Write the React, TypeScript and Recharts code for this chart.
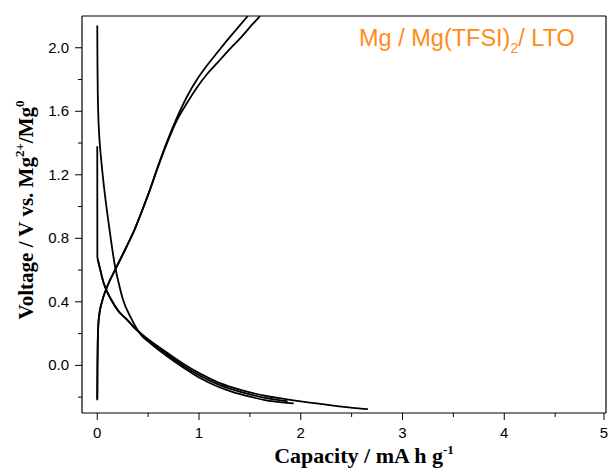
import { LineChart, Line, XAxis, YAxis, ReferenceLine } from 'recharts';

// #region Data (capacity in mA h g-1, voltage in V)
const chargeCap1 = [0, 0.002, 0.005, 0.01, 0.02, 0.046, 0.1, 0.19, 0.29, 0.37, 0.45, 0.52, 0.6, 0.68, 0.78, 0.88, 0.98, 1.08, 1.18, 1.28, 1.38, 1.48];
const chargeV1 = [-0.22, 0.0, 0.15, 0.25, 0.32, 0.4, 0.5, 0.62, 0.75, 0.86, 0.99, 1.11, 1.26, 1.4, 1.555, 1.69, 1.8, 1.89, 1.97, 2.05, 2.125, 2.2];

const chargeCap2 = [0, 0.002, 0.005, 0.01, 0.02, 0.046, 0.1, 0.19, 0.29, 0.37, 0.45, 0.52, 0.6, 0.68, 0.78, 0.88, 0.98, 1.08, 1.18, 1.3, 1.42, 1.5, 1.55, 1.6];
const chargeV2 = [-0.21, 0.0, 0.15, 0.25, 0.32, 0.4, 0.5, 0.62, 0.75, 0.86, 0.99, 1.11, 1.255, 1.39, 1.54, 1.65, 1.75, 1.835, 1.905, 1.99, 2.07, 2.13, 2.165, 2.2];

const dischargeCapA = [0, 0.002, 0.005, 0.01, 0.02, 0.035, 0.05, 0.065, 0.08, 0.1, 0.13, 0.17, 0.21, 0.25, 0.33, 0.42, 0.52, 0.68, 0.845, 1.01, 1.17, 1.334, 1.5, 1.66, 1.82, 1.93];
const dischargeVA = [2.14, 1.9, 1.72, 1.58, 1.44, 1.32, 1.22, 1.13, 1.05, 0.95, 0.81, 0.64, 0.52, 0.42, 0.3, 0.2, 0.14, 0.06, -0.014, -0.08, -0.13, -0.168, -0.197, -0.22, -0.233, -0.24];

const dischargeCapB = [0, 0.001, 0.005, 0.03, 0.062, 0.1, 0.14, 0.21, 0.29, 0.36, 0.43, 0.52, 0.68, 0.845, 1.01, 1.17, 1.334, 1.5, 1.66, 1.82, 2.0, 2.16, 2.32, 2.51, 2.66];
const dischargeVB = [1.38, 0.68, 0.67, 0.6, 0.52, 0.46, 0.41, 0.34, 0.29, 0.24, 0.2, 0.155, 0.082, 0.01, -0.052, -0.102, -0.14, -0.17, -0.193, -0.21, -0.227, -0.24, -0.254, -0.268, -0.276];

const dischargeCapC = [0.003, 0.03, 0.062, 0.1, 0.14, 0.21, 0.29, 0.36, 0.43, 0.52, 0.68, 0.845, 1.01, 1.17, 1.334, 1.5, 1.66, 1.82, 1.87];
const dischargeVC = [0.67, 0.6, 0.52, 0.46, 0.41, 0.34, 0.29, 0.24, 0.2, 0.148, 0.072, -0.002, -0.065, -0.115, -0.153, -0.183, -0.206, -0.222, -0.226];

const xTicks = [0, 0.5, 1, 1.5, 2, 2.5, 3, 3.5, 4, 4.5, 5];
const yTicks = [-0.2, 0, 0.2, 0.4, 0.6, 0.8, 1.0, 1.2, 1.4, 1.6, 1.8, 2.0];
// #endregion

const toPoints = (cap: number[], v: number[]) => cap.map((c, i) => ({ c, v: v[i] }));

const curves = [
  toPoints(chargeCap1, chargeV1),
  toPoints(chargeCap2, chargeV2),
  toPoints(dischargeCapA, dischargeVA),
  toPoints(dischargeCapB, dischargeVB),
  toPoints(dischargeCapC, dischargeVC),
];

const tickFont = '"Liberation Sans", Arial, sans-serif';
const labelFont = '"Liberation Serif", "Times New Roman", serif';

const XTick = (props: any) => {
  const { x, y, payload } = props;
  const major = Number.isInteger(payload.value);
  return (
    <g>
      <line x1={x} y1={y} x2={x} y2={y + (major ? 7 : 4)} stroke="#000" strokeWidth={1} />
      {major && (
        <text x={x} y={y + 25} textAnchor="middle" fontSize={15} fontFamily={tickFont} fill="#000">
          {payload.value}
        </text>
      )}
    </g>
  );
};

const YTick = (props: any) => {
  const { x, y, payload } = props;
  const major = Math.round(payload.value * 10) % 4 === 0;
  return (
    <g>
      <line x1={x} y1={y} x2={x - (major ? 7 : 4)} y2={y} stroke="#000" strokeWidth={1} />
      {major && (
        <text x={x - 13} y={y + 5} textAnchor="end" fontSize={15} fontFamily={tickFont} fill="#000">
          {payload.value.toFixed(1)}
        </text>
      )}
    </g>
  );
};

const App = () => {
  return (
    <div style={{ position: 'absolute', left: 0, top: 0, width: 608, height: 471, background: '#fff' }}>
      <LineChart width={608} height={471} margin={{ top: 16, right: 2, bottom: 0, left: 0 }}>
        <XAxis
          dataKey="c"
          type="number"
          domain={[-0.15, 5]}
          ticks={xTicks}
          allowDataOverflow
          height={58}
          tickSize={0}
          tickMargin={0}
          tickLine={false}
          tick={<XTick />}
          axisLine={{ stroke: '#000', strokeWidth: 1.2 }}
        />
        <YAxis
          dataKey="v"
          type="number"
          domain={[-0.3, 2.2]}
          ticks={yTicks}
          allowDataOverflow
          width={82}
          tickSize={0}
          tickMargin={0}
          tickLine={false}
          tick={<YTick />}
          axisLine={{ stroke: '#000', strokeWidth: 1.2 }}
        />
        <ReferenceLine y={2.2} stroke="#000" strokeWidth={1.2} />
        <ReferenceLine x={5} stroke="#000" strokeWidth={1.2} />
        {curves.map((pts, i) => (
          <Line
            key={i}
            data={pts}
            dataKey="v"
            type="monotoneX"
            stroke="#000"
            strokeWidth={1.8}
            dot={false}
            activeDot={false}
            isAnimationActive={false}
          />
        ))}
      </LineChart>
      <svg width={608} height={471} style={{ position: 'absolute', left: 0, top: 0, pointerEvents: 'none' }}>
        <text x={359} y={46} fontSize={23.5} fontFamily={tickFont} fill="#ff8c1a">
          Mg / Mg(TFSI)
          <tspan fontSize={14} dy={7}>2</tspan>
          <tspan dy={-7}>/ LTO</tspan>
        </text>
        <text x={364} y={463} textAnchor="middle" fontSize={22} fontWeight="bold" fontFamily={labelFont} fill="#000">
          Capacity / mA h g
          <tspan fontSize={13} dy={-9}>-1</tspan>
        </text>
        <text
          transform="translate(33,210) rotate(-90)"
          textAnchor="middle"
          fontSize={21}
          fontWeight="bold"
          fontFamily={labelFont}
          fill="#000"
        >
          Voltage / V vs. Mg
          <tspan fontSize={13} dy={-9}>2+</tspan>
          <tspan dy={9}>/Mg</tspan>
          <tspan fontSize={13} dy={-9}>0</tspan>
        </text>
      </svg>
    </div>
  );
};

export default App;
